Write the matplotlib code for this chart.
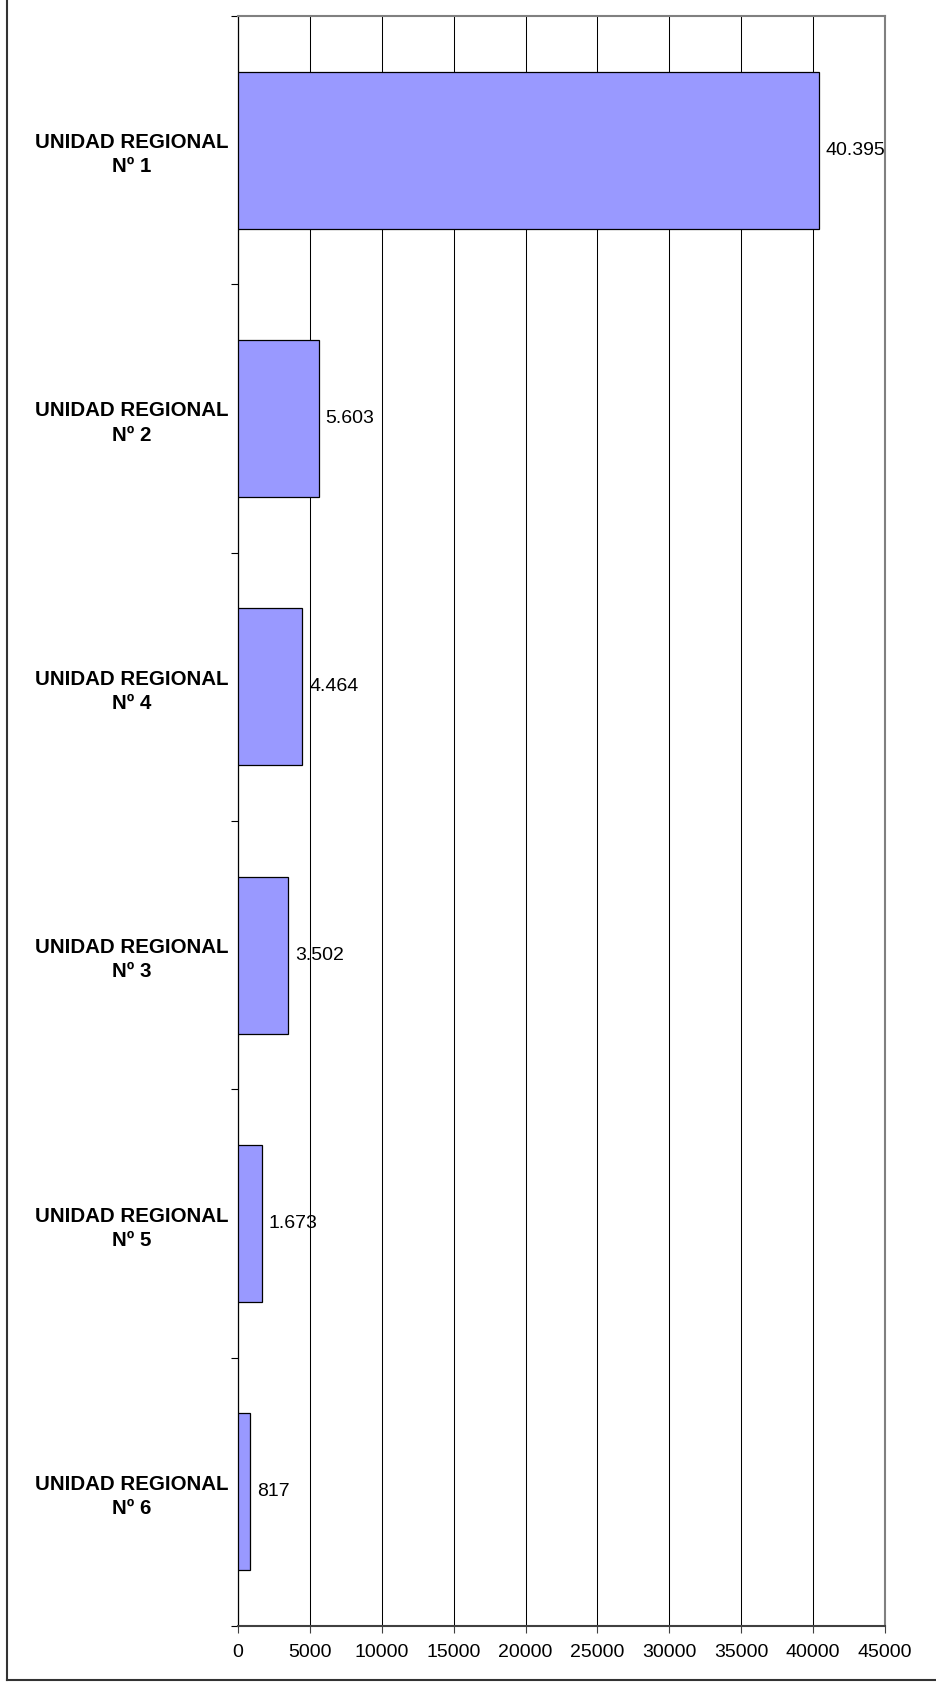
import matplotlib
matplotlib.use("Agg")
import matplotlib.pyplot as plt
from matplotlib.lines import Line2D

plt.rcParams['font.family'] = ['Liberation Sans', 'DejaVu Sans']

categories = ["UNIDAD REGIONAL\nNº 1", "UNIDAD REGIONAL\nNº 2", "UNIDAD REGIONAL\nNº 4",
              "UNIDAD REGIONAL\nNº 3", "UNIDAD REGIONAL\nNº 5", "UNIDAD REGIONAL\nNº 6"]
values = [40395, 5603, 4464, 3502, 1673, 817]
value_labels = ["40.395", "5.603", "4.464", "3.502", "1.673", "817"]
xticks = [0, 5000, 10000, 15000, 20000, 25000, 30000, 35000, 40000, 45000]

W, H = 937, 1686
fig = plt.figure(figsize=(W / 100, H / 100), dpi=100)
fig.patch.set_facecolor("white")

left, right, top, bottom = 238, 885, 16, 1626
ax = fig.add_axes([left / W, 1 - bottom / H, (right - left) / W, (bottom - top) / H])

n = len(categories)
pos = list(range(n))
ax.set_xlim(0, 45000)
ax.set_ylim(n - 0.5, -0.5)

ax.set_xticks(xticks)
ax.set_xticklabels([str(t) for t in xticks], fontsize=14)
ax.xaxis.grid(True, color="black", linewidth=0.75)
ax.set_axisbelow(True)

ax.barh(pos, values, height=0.585, color="#9999FF", edgecolor="black", linewidth=0.9, zorder=3)

for p, v, lab in zip(pos, values, value_labels):
    ax.annotate(lab, (v, p), xytext=(5, 0), textcoords="offset points",
                ha="left", va="center", fontsize=14, zorder=4)

ax.set_yticks(pos)
ax.set_yticklabels(categories, fontsize=14.8, fontweight="bold")
for t in ax.get_yticklabels():
    t.set_multialignment("center")
    t.set_linespacing(1.34)
ax.tick_params(axis="y", which="major", length=0, pad=7)
ax.set_yticks([i - 0.5 for i in range(n + 1)], minor=True)
ax.tick_params(axis="y", which="minor", length=5, width=0.8, color="black")
ax.tick_params(axis="x", which="major", length=5, width=0.8, color="#404040", pad=8)

ax.spines["left"].set_color("black")
ax.spines["left"].set_linewidth(0.9)
ax.spines["bottom"].set_color("#404040")
ax.spines["bottom"].set_linewidth(1.5)
ax.spines["top"].set_color("#808080")
ax.spines["top"].set_linewidth(1.5)
ax.spines["right"].set_color("#808080")
ax.spines["right"].set_linewidth(1.5)

# figure frame lines
fig.add_artist(Line2D([7.5 / W, 7.5 / W], [1 - 1680 / H, 1.0], transform=fig.transFigure,
                      color="#333333", linewidth=1.5))
fig.add_artist(Line2D([7.5 / W, 1.0], [1 - 1680 / H, 1 - 1680 / H], transform=fig.transFigure,
                      color="#333333", linewidth=1.5))

fig.savefig("out.png", dpi=100, facecolor="white")
